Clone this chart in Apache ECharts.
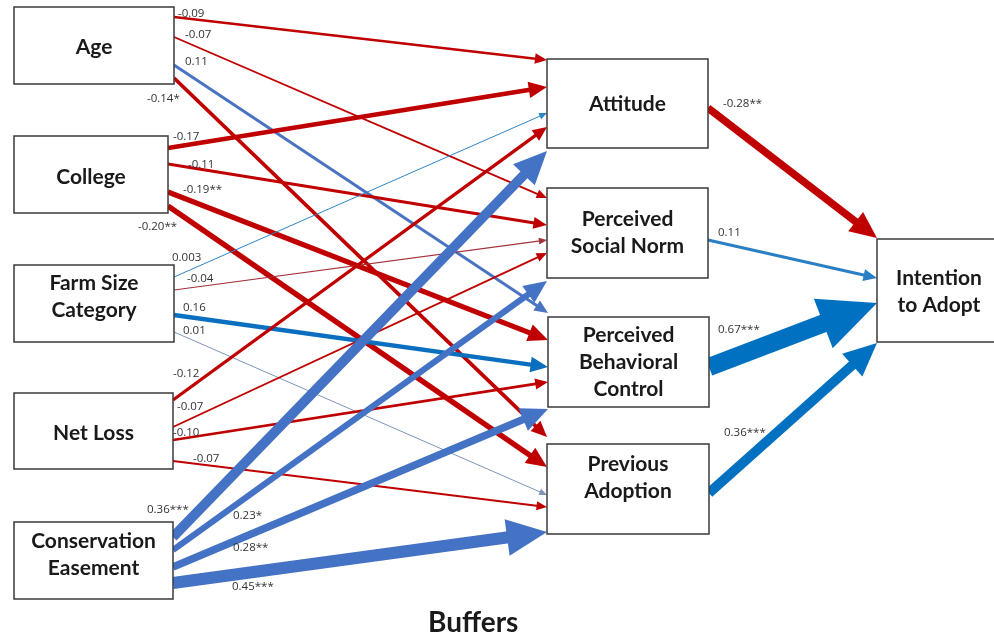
<!DOCTYPE html>
<html>
<head>
<meta charset="utf-8">
<script src="https://cdn.jsdelivr.net/npm/echarts@6/dist/echarts.min.js"></script>
<style>
  html, body { margin: 0; padding: 0; background: #ffffff; }
  #chart { width: 994px; height: 638px; }
</style>
</head>
<body>
<div id="chart"></div>
<script>
// ---- Model constructs ----
const nodeIds = ['age', 'college', 'farm', 'netloss', 'easement',
                 'attitude', 'norm', 'pbc', 'prevadopt', 'intention'];
const nodeNames = ['Age', 'College', 'Farm Size\nCategory', 'Net Loss', 'Conservation\nEasement',
                   'Attitude', 'Perceived\nSocial Norm', 'Perceived\nBehavioral\nControl',
                   'Previous\nAdoption', 'Intention\nto Adopt'];

// ---- Structural paths: source, target, standardized coefficient, significance ----
const pathFrom = ['age', 'age', 'age', 'age',
                  'college', 'college', 'college', 'college',
                  'farm', 'farm', 'farm', 'farm',
                  'netloss', 'netloss', 'netloss', 'netloss',
                  'easement', 'easement', 'easement', 'easement',
                  'attitude', 'norm', 'pbc', 'prevadopt'];
const pathTo = ['attitude', 'norm', 'pbc', 'prevadopt',
                'attitude', 'norm', 'pbc', 'prevadopt',
                'attitude', 'norm', 'pbc', 'prevadopt',
                'attitude', 'norm', 'pbc', 'prevadopt',
                'attitude', 'norm', 'pbc', 'prevadopt',
                'intention', 'intention', 'intention', 'intention'];
const pathCoef = [-0.09, -0.07, 0.11, -0.14,
                  -0.17, -0.11, -0.19, -0.20,
                  0.003, -0.04, 0.16, 0.01,
                  -0.12, -0.07, -0.10, -0.07,
                  0.36, 0.23, 0.28, 0.45,
                  -0.28, 0.11, 0.67, 0.36];
const pathSig = ['', '', '', '*',
                 '', '', '**', '**',
                 '', '', '', '',
                 '', '', '', '',
                 '***', '*', '**', '***',
                 '**', '', '***', '***'];
const chartTitle = 'Buffers';

// ---- Diagram layout (plot units, y grows downward) ----
// box: [left, top, right, bottom]; textY: vertical centre of the box caption
const boxes = {
  age:       { box: [14, 7, 174, 84],     textY: 47 },
  college:   { box: [14, 136, 168, 213],  textY: 177 },
  farm:      { box: [14, 265, 174, 342],  textY: 297 },
  netloss:   { box: [14, 393, 173, 469],  textY: 433 },
  easement:  { box: [14, 522, 173, 599],  textY: 555 },
  attitude:  { box: [547, 59, 708, 148],  textY: 104 },
  norm:      { box: [547, 188, 708, 278], textY: 233 },
  pbc:       { box: [548, 317, 709, 407], textY: 362 },
  prevadopt: { box: [547, 444, 709, 534], textY: 478 },
  intention: { box: [877, 239, 1001, 342], textY: 292 }
};
// [y where the path leaves the source box, y of the arrow tip on the target box]
const ports = [
  [17, 60], [37, 198], [65, 313], [78, 437],
  [148, 87], [164, 225], [192, 340], [206, 467],
  [277, 113], [290, 240], [315, 367], [332, 495],
  [400, 127], [427, 253], [440, 382], [461, 507],
  [537, 151], [550, 281], [567, 409], [583, 532],
  [108, 238], [240, 278], [367, 303], [493, 343]
];
// left edge / vertical centre of each coefficient caption
const labelAt = [
  [178, 14], [185, 35], [185, 62], [147, 99],
  [173, 137], [188, 165], [183, 190], [138, 227],
  [172, 258], [187, 279], [183, 308], [183, 331],
  [173, 374], [177, 407], [173, 433], [193, 459],
  [147, 510], [233, 516], [233, 548], [232, 587],
  [723, 104], [718, 233], [718, 330], [724, 433]
];

// ---- Styles ----
const RED = '#c00000';
const pathColor = [
  RED, RED, '#4a74c2', RED,
  RED, RED, RED, RED,
  '#2f86c6', '#a3323a', '#0a6fbf', '#7e95b8',
  RED, RED, RED, RED,
  '#4472c4', '#4472c4', '#4472c4', '#4472c4',
  RED, '#2a7fc4', '#0070c0', '#0070c0'
];
const FONT = 'Lato, "Open Sans", sans-serif';
const SMALL_FONT = '"Open Sans", Lato, sans-serif';

function fmtCoef(c) {
  return Math.abs(c) < 0.01 ? c.toFixed(3) : c.toFixed(2);
}
function strokeWidth(c) {
  return Math.max(1, 27 * Math.abs(c));
}

const pathIdx = pathCoef.map((c, i) => [i, c]);
const nodeIdx = nodeIds.map((id, i) => [i]);

function renderPath(params, api) {
  const i = params.dataIndex;
  const c = api.value(1);
  const src = boxes[pathFrom[i]].box;
  const dst = boxes[pathTo[i]].box;
  const S = api.coord([src[2], ports[i][0]]);
  const T = api.coord([dst[0], ports[i][1]]);
  const w = strokeWidth(c);
  const headL = 5 + 2.9 * w;
  const headW = 4 + 2.7 * w;
  const dx = T[0] - S[0], dy = T[1] - S[1];
  const len = Math.sqrt(dx * dx + dy * dy);
  const ux = dx / len, uy = dy / len;
  const nx = -uy, ny = ux;
  const B = [T[0] - ux * headL, T[1] - uy * headL];
  const E = [T[0] - ux * headL * 0.6, T[1] - uy * headL * 0.6];
  const col = pathColor[i];
  return {
    type: 'group',
    children: [
      {
        type: 'line',
        shape: { x1: S[0], y1: S[1], x2: E[0], y2: E[1] },
        style: { stroke: col, lineWidth: w, lineCap: 'butt' }
      },
      {
        type: 'polygon',
        shape: {
          points: [
            T,
            [B[0] + nx * headW / 2, B[1] + ny * headW / 2],
            [B[0] - nx * headW / 2, B[1] - ny * headW / 2]
          ]
        },
        style: { fill: col }
      }
    ]
  };
}

function renderLabel(params, api) {
  const i = params.dataIndex;
  const p = api.coord(labelAt[i]);
  return {
    type: 'text',
    x: p[0],
    y: p[1],
    style: {
      text: fmtCoef(api.value(1)) + pathSig[i],
      fill: '#333333',
      font: '11.5px ' + SMALL_FONT,
      textAlign: 'left',
      textVerticalAlign: 'middle'
    }
  };
}

function renderNode(params, api) {
  const i = params.dataIndex;
  const b = boxes[nodeIds[i]];
  const p0 = api.coord([b.box[0], b.box[1]]);
  const p1 = api.coord([b.box[2], b.box[3]]);
  const tc = api.coord([(b.box[0] + b.box[2]) / 2, b.textY]);
  return {
    type: 'group',
    children: [
      {
        type: 'rect',
        shape: { x: p0[0], y: p0[1], width: p1[0] - p0[0], height: p1[1] - p0[1] },
        style: { fill: '#ffffff', stroke: '#3a3a3a', lineWidth: 1.5 }
      },
      {
        type: 'text',
        x: tc[0],
        y: tc[1],
        style: {
          text: nodeNames[i],
          fill: '#1a1a1a',
          font: 'bold 21px ' + FONT,
          lineHeight: 27,
          textAlign: 'center',
          textVerticalAlign: 'middle'
        }
      }
    ]
  };
}

const chart = echarts.init(document.getElementById('chart'), null, { renderer: 'canvas' });
chart.setOption({
  backgroundColor: '#ffffff',
  animation: false,
  title: {
    text: chartTitle,
    left: 428,
    top: 609,
    textStyle: { fontFamily: FONT, fontWeight: 'bold', fontSize: 28, color: '#1a1a1a' },
    padding: 0,
    itemGap: 0
  },
  grid: { left: 0, right: 0, top: 0, bottom: 0 },
  xAxis: { type: 'value', min: 0, max: 994, show: false },
  yAxis: { type: 'value', min: 0, max: 638, inverse: true, show: false },
  series: [
    {
      type: 'custom',
      name: 'paths',
      coordinateSystem: 'cartesian2d',
      renderItem: renderPath,
      data: pathIdx,
      z: 1,
      silent: true
    },
    {
      type: 'custom',
      name: 'constructs',
      coordinateSystem: 'cartesian2d',
      renderItem: renderNode,
      data: nodeIdx,
      z: 2,
      silent: true
    },
    {
      type: 'custom',
      name: 'coefficients',
      coordinateSystem: 'cartesian2d',
      renderItem: renderLabel,
      data: pathIdx,
      z: 3,
      silent: true
    }
  ]
});
</script>
</body>
</html>
